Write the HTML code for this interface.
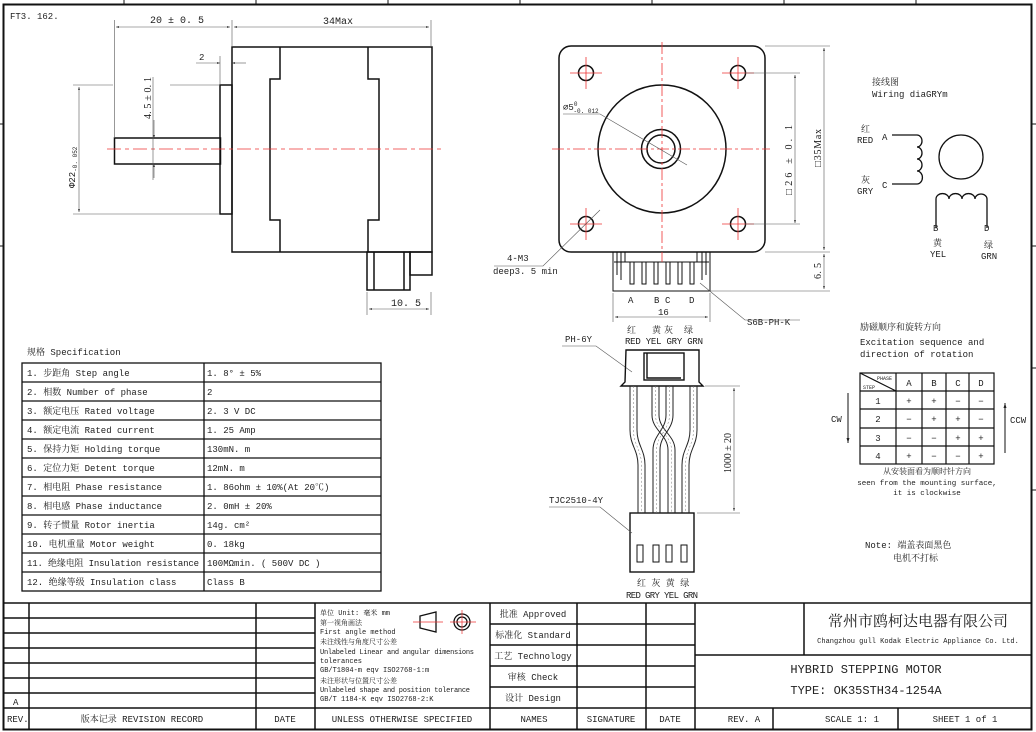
<!DOCTYPE html>
<html><head><meta charset="utf-8"><style>
html,body{margin:0;padding:0;background:#fff}
svg{display:block}
text{font-family:"Liberation Mono","Noto Serif CJK SC",monospace;fill:#222}
.s{font-size:9px}.m{font-size:10px}
.r{font-family:"Liberation Serif","Noto Serif CJK SC",serif;font-size:10px}
</style></head><body>
<svg width="1036" height="732" viewBox="0 0 1036 732" xmlns="http://www.w3.org/2000/svg">
<defs>
<marker id="a" viewBox="0 0 10 10" refX="10" refY="5" markerWidth="7" markerHeight="5" orient="auto-start-reverse"><path d="M0,2 L10,5 L0,8z" fill="#222"/></marker>
</defs>
<g fill="none" stroke="#111">
<rect x="3.5" y="4.5" width="1028" height="725" stroke-width="2"/>
<path d="M124,0V4 M256,0V4 M388,0V4 M520,0V4 M652,0V4 M784,0V4 M916,0V4 M0,124H3 M0,246H3 M1032,124H1036 M1032,246H1036 M1032,368H1036 M1032,490H1036" stroke-width="1"/>
</g>
<text x="10" y="19" class="s">FT3. 162.</text>

<!-- side view -->
<g fill="none" stroke="#111" stroke-width="1.5">
<rect x="114.5" y="138" width="106" height="26"/>
<rect x="220" y="85" width="12" height="129"/>
<rect x="232" y="47" width="200" height="205"/>
<path d="M280,47V79H270V220H280V252 M368,47V79H379V220H368V252"/>
<rect x="367" y="252" width="43" height="38"/>
<path d="M374,252V290 M404,252V290"/>
<rect x="410" y="252" width="22" height="23"/>
</g>
<path d="M107,149H441" stroke="#e33" stroke-width="0.8" stroke-dasharray="14,4,4,4"/>
<g stroke="#555" stroke-width="0.6" fill="none">
<path d="M114.5,20V138 M232,20V47 M431,20V47 M73,85H113 M170,85H220 M73,214H220 M153,77V180 M220,56V84 M367,292V315 M431,292V315"/>
<path d="M116,27H230" marker-start="url(#a)" marker-end="url(#a)"/>
<path d="M234,27H429" marker-start="url(#a)" marker-end="url(#a)"/>
<path d="M196,63H220" marker-end="url(#a)"/><path d="M246,63H232" marker-end="url(#a)"/>
<path d="M79,87V212" marker-start="url(#a)" marker-end="url(#a)"/>
<path d="M154,120V138" marker-end="url(#a)"/><path d="M154,178V164" marker-end="url(#a)"/>
<path d="M369,309H429" marker-start="url(#a)" marker-end="url(#a)"/>
</g>
<text x="150" y="23" class="m">20 ± 0. 5</text>
<text x="323" y="24" class="m">34Max</text>
<text x="199" y="60" class="s">2</text>
<text x="391" y="306" class="m">10. 5</text>
<text transform="translate(151,119) rotate(-90)" class="r" textLength="42" lengthAdjust="spacing">4. 5 ± 0. 1</text>
<text transform="translate(75,188) rotate(-90)" class="s">Φ22<tspan font-size="6" dy="2">-0. 052</tspan></text>

<!-- front view -->
<g fill="none" stroke="#111" stroke-width="1.5">
<rect x="559" y="46" width="206" height="206" rx="12"/>
<circle cx="662" cy="149" r="64"/>
<circle cx="661" cy="149" r="19.5"/>
<circle cx="661" cy="149" r="14"/>
<circle cx="586" cy="73" r="7.5"/><circle cx="738" cy="73" r="7.5"/>
<circle cx="586" cy="224" r="7.5"/><circle cx="738" cy="224" r="7.5"/>
<path d="M613,252V291H710V252 M617,252V275 M621,252V280 M706,252V275 M702,252V280 M625,252H697V262 M625,252V262 M614,262H709" stroke-width="1"/>
</g>
<g fill="none" stroke="#111" stroke-width="1">
<rect x="630" y="262" width="4" height="22"/><rect x="642" y="262" width="4" height="22"/><rect x="654" y="262" width="4" height="22"/>
<rect x="666" y="262" width="4" height="22"/><rect x="678" y="262" width="4" height="22"/><rect x="690" y="262" width="4" height="22"/>
</g>
<g stroke="#e33" stroke-width="0.8" fill="none" stroke-dasharray="12,3,3,3">
<path d="M662,42V262 M552,149H770"/>
</g>
<g stroke="#e33" stroke-width="0.8" fill="none">
<path d="M570,73H602M586,57V89 M722,73H754M738,57V89 M570,224H602M586,208V240 M722,224H754M738,208V240"/>
</g>
<g stroke="#555" stroke-width="0.6" fill="none">
<path d="M765,46H830 M745,73H800 M745,224H800 M710,291H830 M765,252H830 M613,293V322 M710,293V322 M700,283L745,320H800"/>
<path d="M795,75V223" marker-start="url(#a)" marker-end="url(#a)"/>
<path d="M824,48V250" marker-start="url(#a)" marker-end="url(#a)"/>
<path d="M824,254V289" marker-start="url(#a)" marker-end="url(#a)"/>
<path d="M615,317H708" marker-start="url(#a)" marker-end="url(#a)"/>
<path d="M563,114H600L687,165"/>
<path d="M494,266H543L600,210"/>
</g>
<text x="563" y="110" class="s">⌀5<tspan font-size="6" dy="-4">0</tspan><tspan font-size="6" dx="-4" dy="7">-0. 012</tspan></text>
<text x="507" y="261" class="s">4-M3</text>
<text x="493" y="274" class="s">deep3. 5 min</text>
<text x="628" y="303" class="s">A</text><text x="654" y="303" class="s">B</text><text x="665" y="303" class="s">C</text><text x="689" y="303" class="s">D</text>
<text x="658" y="315" class="s">16</text>
<text x="747" y="325" class="s">S6B-PH-K</text>
<text transform="translate(792,160) rotate(-90)" class="r" font-size="11" text-anchor="middle" textLength="70" lengthAdjust="spacing">□26 ± 0. 1</text>
<text transform="translate(821,148) rotate(-90)" class="r" font-size="11" text-anchor="middle" textLength="38" lengthAdjust="spacing">□35Max</text>
<text transform="translate(821,271) rotate(-90)" class="r" font-size="11" text-anchor="middle" textLength="16" lengthAdjust="spacing">6. 5</text>

<!-- cable -->
<text x="627" y="333" class="s">红</text><text x="652" y="333" class="s">黄</text><text x="664" y="333" class="s">灰</text><text x="684" y="333" class="s">绿</text>
<text x="625" y="344" class="s" font-size="8.5" textLength="78">RED YEL GRY GRN</text>
<text x="565" y="342" class="s">PH-6Y</text>
<path d="M562,346H596L632,372" stroke="#555" stroke-width="0.6" fill="none"/>
<g fill="none" stroke="#111" stroke-width="1.4">
<path d="M626,350H699V382L703,386H621L625,382Z"/>
<rect x="644" y="353" width="40" height="27"/><path d="M647,353V378H681"/>
<rect x="630" y="513" width="64" height="59"/>
</g>
<g fill="none" stroke="#111" stroke-width="1">
<rect x="637" y="545" width="6" height="17"/><rect x="653" y="545" width="6" height="17"/><rect x="666" y="545" width="6" height="17"/><rect x="681" y="545" width="6" height="17"/>
</g>
<g fill="none" stroke="#222" stroke-width="1">
<path d="M630,386V430C630,445 638,450 638,465V513 M637,386V430C637,445 645,450 645,465V513"/>
<path d="M652,386V415C652,430 668,435 668,450V513 M659,386V415C659,430 675,435 675,450V513"/>
<path d="M666,386V415C666,430 653,435 653,450V513 M673,386V415C673,430 660,435 660,450V513"/>
<path d="M690,386V430C690,445 682,450 682,465V513 M697,386V430C697,445 689,450 689,465V513"/>
</g>
<g fill="none" stroke="#777" stroke-width="0.5" stroke-dasharray="2,2">
<path d="M633.5,386V430C633.5,445 641.5,450 641.5,465V513"/>
<path d="M655.5,386V415C655.5,430 671.5,435 671.5,450V513"/>
<path d="M669.5,386V415C669.5,430 656.5,435 656.5,450V513"/>
<path d="M693.5,386V430C693.5,445 685.5,450 685.5,465V513"/>
</g>
<g stroke="#555" stroke-width="0.6" fill="none">
<path d="M705,386H740 M697,513H740"/>
<path d="M734,388V511" marker-start="url(#a)" marker-end="url(#a)"/>
<path d="M549,507H600L632,533"/>
</g>
<text transform="translate(731,453) rotate(-90)" class="r" text-anchor="middle" textLength="40" lengthAdjust="spacing">1000 ± 20</text>
<text x="549" y="503" class="s">TJC2510-4Y</text>
<text x="637" y="586" class="s">红 灰 黄 绿</text>
<text x="626" y="598" class="s" font-size="8.5" textLength="72">RED GRY YEL GRN</text>

<!-- wiring diagram -->
<text x="872" y="85" class="s">接线图</text>
<text x="872" y="97" class="s">Wiring diaGRYm</text>
<text x="861" y="132" class="s">红</text><text x="857" y="143" class="s">RED</text>
<text x="861" y="183" class="s">灰</text><text x="857" y="194" class="s">GRY</text>
<text x="882" y="140" class="s">A</text><text x="882" y="188" class="s">C</text>
<g fill="none" stroke="#111" stroke-width="1.3">
<path d="M892,135H917 M892,184H917 M917,135a5,6 0 0 1 0,12a5,6 0 0 1 0,12a5,6 0 0 1 0,12a5,6 0 0 1 0,13"/>
<circle cx="961" cy="157" r="22"/>
<path d="M936,228V199 M987,228V199 M936,199a6,5 0 0 1 13,0a6,5 0 0 1 13,0a6,5 0 0 1 13,0a6,5 0 0 1 12,0"/>
</g>
<text x="933" y="231" class="s">B</text><text x="984" y="231" class="s">D</text>
<text x="933" y="246" class="s">黄</text><text x="930" y="257" class="s">YEL</text>
<text x="984" y="248" class="s">绿</text><text x="981" y="259" class="s">GRN</text>

<!-- excitation -->
<text x="860" y="330" class="s">励磁顺序和旋转方向</text>
<text x="860" y="345" class="s">Excitation sequence and</text>
<text x="860" y="357" class="s">direction of rotation</text>
<g fill="none" stroke="#111" stroke-width="1.2">
<rect x="860" y="373" width="134" height="91"/>
<path d="M896,373V464 M922,373V464 M946,373V464 M969,373V464 M860,391H994 M860,409H994 M860,428H994 M860,446H994 M860,373L896,391"/>
</g>
<g stroke="#111" stroke-width="1">
<path d="M848,393V443" marker-end="url(#a)"/><path d="M1005,453V403" marker-end="url(#a)"/>
</g>
<text x="877" y="380" font-size="5">PHASE</text><text x="863" y="389" font-size="5">STEP</text>
<g class="s" text-anchor="middle">
<text x="909" y="386">A</text><text x="934" y="386">B</text><text x="958" y="386">C</text><text x="981" y="386">D</text>
<text x="878" y="404">1</text><text x="909" y="404">+</text><text x="934" y="404">+</text><text x="958" y="404">−</text><text x="981" y="404">−</text>
<text x="878" y="422">2</text><text x="909" y="422">−</text><text x="934" y="422">+</text><text x="958" y="422">+</text><text x="981" y="422">−</text>
<text x="878" y="441">3</text><text x="909" y="441">−</text><text x="934" y="441">−</text><text x="958" y="441">+</text><text x="981" y="441">+</text>
<text x="878" y="459">4</text><text x="909" y="459">+</text><text x="934" y="459">−</text><text x="958" y="459">−</text><text x="981" y="459">+</text>
<text x="927" y="474" font-size="8">从安装面看为顺时针方向</text>
<text x="927" y="485" font-size="7.5">seen from the mounting surface,</text>
<text x="927" y="495" font-size="7.5">it is clockwise</text>
</g>
<text x="831" y="422" class="s">CW</text><text x="1010" y="423" class="s">CCW</text>
<text x="865" y="548" class="s">Note: 端盖表面黑色</text>
<text x="893" y="561" class="s">电机不打标</text>

<!-- spec table -->
<text x="27" y="355" class="s">规格 Specification</text>
<g fill="none" stroke="#111" stroke-width="1.3">
<rect x="22" y="363" width="359" height="228"/>
<path d="M204,363V591 M22,382H381 M22,401H381 M22,420H381 M22,439H381 M22,458H381 M22,477H381 M22,496H381 M22,515H381 M22,534H381 M22,553H381 M22,572H381"/>
</g>
<g class="s">
<text x="27" y="376">1. 步距角 Step angle</text><text x="207" y="376">1. 8°  ± 5%</text>
<text x="27" y="395">2. 相数 Number of phase</text><text x="207" y="395">2</text>
<text x="27" y="414">3. 额定电压 Rated voltage</text><text x="207" y="414">2. 3 V DC</text>
<text x="27" y="433">4. 额定电流 Rated current</text><text x="207" y="433">1. 25 Amp</text>
<text x="27" y="452">5. 保持力矩 Holding torque</text><text x="207" y="452">130mN. m</text>
<text x="27" y="471">6. 定位力矩 Detent torque</text><text x="207" y="471">12mN. m</text>
<text x="27" y="490">7. 相电阻 Phase resistance</text><text x="207" y="490">1. 86ohm ± 10%(At 20℃)</text>
<text x="27" y="509">8. 相电感 Phase inductance</text><text x="207" y="509">2. 0mH ± 20%</text>
<text x="27" y="528">9. 转子惯量 Rotor inertia</text><text x="207" y="528">14g. cm²</text>
<text x="27" y="547">10. 电机重量 Motor weight</text><text x="207" y="547">0. 18kg</text>
<text x="27" y="566" textLength="172">11. 绝缘电阻 Insulation resistance</text><text x="207" y="566">100MΩmin. ( 500V DC )</text>
<text x="27" y="585">12. 绝缘等级 Insulation class</text><text x="207" y="585">Class B</text>
</g>

<!-- title block -->
<g fill="none" stroke="#111" stroke-width="1.5">
<path d="M3,603H1032 M3,708H1032"/>
<path d="M29,603V730 M256,603V730 M315,603V730 M490,603V730"/>
<path d="M3,618H315 M3,633H315 M3,648H315 M3,663H315 M3,678H315 M3,693H315"/>
<path d="M577,603V730 M646,603V730 M695,603V730 M773,708V730 M898,708V730 M804,603V655"/>
<path d="M490,624H695 M490,645H695 M490,666H695 M490,687H695 M695,655H1032"/>
</g>
<g class="s">
<text x="13" y="705">A</text>
<text x="7" y="722">REV.</text>
<text x="142" y="722" text-anchor="middle">版本记录 REVISION RECORD</text>
<text x="285" y="722" text-anchor="middle">DATE</text>
<text x="402" y="722" text-anchor="middle">UNLESS OTHERWISE SPECIFIED</text>
<text x="534" y="722" text-anchor="middle">NAMES</text>
<text x="611" y="722" text-anchor="middle">SIGNATURE</text>
<text x="670" y="722" text-anchor="middle">DATE</text>
<text x="744" y="722" text-anchor="middle">REV. A</text>
<text x="852" y="722" text-anchor="middle">SCALE 1: 1</text>
<text x="965" y="722" text-anchor="middle">SHEET 1 of 1</text>
<text x="533" y="617" text-anchor="middle">批准 Approved</text>
<text x="533" y="638" text-anchor="middle">标准化 Standard</text>
<text x="533" y="659" text-anchor="middle">工艺 Technology</text>
<text x="533" y="680" text-anchor="middle">审核 Check</text>
<text x="533" y="701" text-anchor="middle">设计 Design</text>
</g>
<g font-size="7">
<text x="320" y="615">单位 Unit: 毫米 mm</text>
<text x="320" y="625">第一视角画法</text>
<text x="320" y="634">First angle method</text>
<text x="320" y="644">未注线性与角度尺寸公差</text>
<text x="320" y="654" textLength="154">Unlabeled Linear and angular dimensions</text>
<text x="320" y="663">tolerances</text>
<text x="320" y="672">GB/T1804-m  eqv ISO2768-1:m</text>
<text x="320" y="683">未注形状与位置尺寸公差</text>
<text x="320" y="692" textLength="150">Unlabeled shape and position tolerance</text>
<text x="320" y="701">GB/T 1184-K  eqv ISO2768-2:K</text>
</g>
<g fill="none" stroke="#111" stroke-width="1.3">
<path d="M420,616L436,612V632L420,628Z"/>
<circle cx="462" cy="622" r="8"/><circle cx="462" cy="622" r="5"/>
</g>
<path d="M413,622H443 M450,622H476 M462,610V634" stroke="#e33" stroke-width="0.7"/>
<text x="918" y="626" font-size="15" text-anchor="middle" font-family="Noto Serif CJK SC,serif">常州市鸥柯达电器有限公司</text>
<text x="918" y="643" font-size="7" text-anchor="middle" font-family="Liberation Serif,serif">Changzhou gull Kodak Electric Appliance Co. Ltd.</text>
<text x="866" y="673" font-size="12" text-anchor="middle" font-family="Liberation Serif,serif">HYBRID STEPPING MOTOR</text>
<text x="866" y="694" font-size="12" text-anchor="middle" font-family="Liberation Sans,Noto Sans CJK SC,sans-serif">TYPE: OK35STH34-1254A</text>
</svg>
</body></html>
